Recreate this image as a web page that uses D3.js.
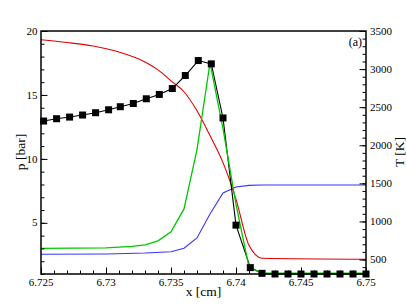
<!DOCTYPE html>
<html>
<head>
<meta charset="utf-8">
<script src="https://cdn.jsdelivr.net/npm/d3@7"></script>
<style>
  html, body { margin: 0; padding: 0; background: #fff; }
  svg { display: block; }
</style>
</head>
<body>
<svg id="chart" width="407" height="306" font-family="'Liberation Serif', 'Times New Roman', Times, serif"></svg>
<script>
// ---------- data ----------
// red curve: pressure [bar]
const redX = [6.725, 6.727, 6.729, 6.731, 6.733, 6.734, 6.735, 6.736, 6.737, 6.738, 6.739, 6.740, 6.741, 6.742, 6.750];
const redP = [19.31, 19.10, 18.83, 18.36, 17.58, 16.96, 16.10, 15.25, 13.76, 11.82, 9.71, 6.83, 3.24, 2.23, 2.15];

// green curve: pressure [bar]
const greenX = [6.725, 6.730, 6.732, 6.733, 6.734, 6.735, 6.736, 6.737, 6.738, 6.739, 6.740, 6.741, 6.742, 6.750];
const greenP = [3.01, 3.05, 3.16, 3.28, 3.59, 4.30, 6.09, 10.73, 17.51, 12.36, 6.44, 1.53, 1.06, 1.06];

// blue curve: temperature [K]
const blueX = [6.725, 6.730, 6.733, 6.735, 6.736, 6.737, 6.738, 6.739, 6.740, 6.741, 6.742, 6.750];
const blueT = [569, 573, 586, 603, 648, 783, 1098, 1374, 1452, 1474, 1478, 1478];

// black squares: pressure [bar]
const sqX = [6.7252, 6.7262, 6.7272, 6.7282, 6.7292, 6.7302, 6.7311, 6.7321, 6.7331, 6.7341,
             6.7351, 6.7361, 6.7371, 6.7381, 6.7390, 6.7400, 6.7411, 6.7420, 6.7430, 6.7440,
             6.7450, 6.7460, 6.7470, 6.7480, 6.7490, 6.7500];
const sqP = [12.96, 13.14, 13.27, 13.43, 13.61, 13.84, 14.08, 14.33, 14.70, 15.04,
             15.50, 16.52, 17.69, 17.43, 13.20, 4.82, 1.50, 1.05, 1.0, 1.0,
             1.0, 1.0, 1.0, 1.0, 1.0, 1.0];

const xTicks = [6.725, 6.73, 6.735, 6.74, 6.745, 6.75];
const xTickLabels = ["6.725", "6.73", "6.735", "6.74", "6.745", "6.75"];
const pTicks = [5, 10, 15, 20];
const tTicks = [500, 1000, 1500, 2000, 2500, 3000, 3500];

// ---------- layout ----------
const L = 41, R = 366, T = 31, B = 274;
const FONT = "'Liberation Serif', 'Times New Roman', Times, serif";
const svg = d3.select("#chart");

const x = d3.scaleLinear().domain([6.725, 6.75]).range([L, R]);
const yP = d3.scaleLinear().domain([1, 20]).range([B, T]);
const yT = d3.scaleLinear().domain([310, 3500]).range([B, T]);

// ---------- curves ----------
const line = (ys) => d3.line().curve(d3.curveMonotoneX).x(d => x(d[0])).y(d => ys(d[1]));
const lineL = (ys) => d3.line().x(d => x(d[0])).y(d => ys(d[1]));

svg.append("path").datum(d3.zip(blueX, blueT))
  .attr("d", lineL(yT)).attr("fill", "none").attr("stroke", "#3535ff").attr("stroke-width", 1.1);
svg.append("path").datum(d3.zip(redX, redP))
  .attr("d", line(yP)).attr("fill", "none").attr("stroke", "#e00000").attr("stroke-width", 1.1);
svg.append("path").datum(d3.zip(sqX, sqP))
  .attr("d", lineL(yP)).attr("fill", "none").attr("stroke", "#000").attr("stroke-width", 1.1);
svg.append("path").datum(d3.zip(greenX, greenP))
  .attr("d", lineL(yP)).attr("fill", "none").attr("stroke", "#00c800").attr("stroke-width", 1.3);

const S = 7;
svg.append("g").selectAll("rect").data(d3.zip(sqX, sqP)).join("rect")
  .attr("x", d => x(d[0]) - S / 2).attr("y", d => yP(d[1]) - S / 2)
  .attr("width", S).attr("height", S).attr("fill", "#000");

// ---------- axes ----------
function styleAxis(g) {
  g.select(".domain").remove();
  g.selectAll("line").attr("stroke", "#000").attr("stroke-width", 1);
  g.selectAll("text").remove();
}

const xMinor = d3.range(6.725, 6.7505, 0.001);
svg.append("g").attr("transform", `translate(0,${B})`)
  .call(d3.axisTop(x).tickValues(xMinor).tickSize(3.5)).call(styleAxis);
svg.append("g").attr("transform", `translate(0,${B})`)
  .call(d3.axisTop(x).tickValues(xTicks).tickSize(6.5)).call(styleAxis);

const pMinor = d3.range(1, 20.5, 1);
svg.append("g").attr("transform", `translate(${L},0)`)
  .call(d3.axisRight(yP).tickValues(pMinor).tickSize(3.5)).call(styleAxis);
svg.append("g").attr("transform", `translate(${L},0)`)
  .call(d3.axisRight(yP).tickValues(pTicks).tickSize(6.5)).call(styleAxis);

const tMinor = d3.range(400, 3550, 100);
svg.append("g").attr("transform", `translate(${R},0)`)
  .call(d3.axisLeft(yT).tickValues(tMinor).tickSize(3.5)).call(styleAxis);
svg.append("g").attr("transform", `translate(${R},0)`)
  .call(d3.axisLeft(yT).tickValues(tTicks).tickSize(6.5)).call(styleAxis);

// frame
svg.append("rect").attr("x", L).attr("y", T).attr("width", R - L).attr("height", B - T)
  .attr("fill", "none").attr("stroke", "#000").attr("stroke-width", 1.5);

// tick labels
svg.append("g").selectAll("text").data(xTicks).join("text")
  .attr("x", d => x(d)).attr("y", B + 11.5).attr("text-anchor", "middle")
  .attr("font-family", FONT).attr("font-size", 11).text((d, i) => xTickLabels[i]);

svg.append("g").selectAll("text").data(pTicks).join("text")
  .attr("x", L - 3.5).attr("y", d => yP(d)).attr("dy", "0.33em").attr("text-anchor", "end")
  .attr("font-family", FONT).attr("font-size", 11).text(d => d);

svg.append("g").selectAll("text").data(tTicks).join("text")
  .attr("x", R + 4).attr("y", d => yT(d)).attr("dy", "0.33em").attr("text-anchor", "start")
  .attr("font-family", FONT).attr("font-size", 11).text(d => d);

// titles
svg.append("text").attr("x", (L + R) / 2).attr("y", 296).attr("text-anchor", "middle")
  .attr("font-family", FONT).attr("font-size", 13.5).text("x [cm]");
svg.append("text").attr("transform", "translate(25,152) rotate(-90)").attr("text-anchor", "middle")
  .attr("font-family", FONT).attr("font-size", 13.5).text("p [bar]");
svg.append("text").attr("transform", "translate(404,152) rotate(-90)").attr("text-anchor", "middle")
  .attr("font-family", FONT).attr("font-size", 13.5).text("T [K]");
svg.append("text").attr("x", 362).attr("y", 45.5).attr("text-anchor", "end")
  .attr("font-family", FONT).attr("font-size", 12).text("(a)");
</script>
</body>
</html>
